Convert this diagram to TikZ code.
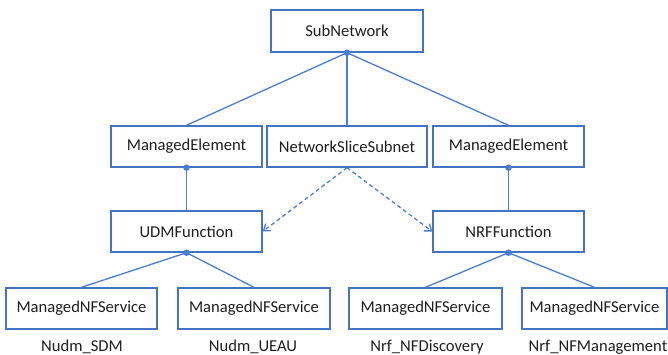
\documentclass[tikz,border=0pt]{standalone}
\usepackage{fontspec}
\setmainfont{Carlito}
\usetikzlibrary{arrows.meta}
\definecolor{boxblue}{HTML}{4472C4}
\definecolor{lineblue}{HTML}{4A7DD4}
\tikzset{
  box/.style={draw=boxblue, line width=1.4pt, fill=white, minimum height=41pt, inner sep=0pt, font=\fontsize{16.6}{19}\selectfont, text=black!88},
  conn/.style={draw=lineblue, line width=1.3pt},
  dconn/.style={draw=lineblue, line width=1.3pt, dash pattern=on 4pt off 3pt, -{Straight Barb[length=6pt,width=9pt,line width=1.3pt]}},
  lbl/.style={font=\fontsize{16.6}{19}\selectfont, text=black!88, inner sep=0pt, anchor=base},
  dot/.style={circle, fill=lineblue, inner sep=0pt, minimum size=6.5pt}
}
\begin{document}
\begin{tikzpicture}[x=1pt,y=-1pt]
\useasboundingbox (0,0) rectangle (668,355);
\node[box, minimum width=152pt, minimum height=42pt] (sub) at (347,31) {SubNetwork};
\node[box, minimum width=151pt] (mel) at (186.5,146.5) {ManagedElement};
\node[box, minimum width=160pt] (nss) at (347,146.5) {NetworkSliceSubnet};
\node[box, minimum width=151pt] (mer) at (508.5,146.5) {ManagedElement};
\node[box, minimum width=151pt] (udm) at (186.5,231.5) {UDMFunction};
\node[box, minimum width=151pt] (nrf) at (508.5,231.5) {NRFFunction};
\node[box, minimum width=151pt] (s1) at (81.5,308.5) {ManagedNFService};
\node[box, minimum width=152pt] (s2) at (254,308.5) {ManagedNFService};
\node[box, minimum width=153pt] (s3) at (425.5,308.5) {ManagedNFService};
\node[box, minimum width=145pt] (s4) at (594.5,308.5) {ManagedNFService};
\node[lbl] (l1) at (82,351) {Nudm\_SDM};
\node[lbl] (l2) at (253,351) {Nudm\_UEAU};
\node[lbl] (l3) at (427,351) {Nrf\_NFDiscovery};
\node[lbl] (l4) at (598,351) {Nrf\_NFManagement};
\draw[conn] (sub.south) -- (mel.north);
\draw[conn] (sub.south) -- (nss.north);
\draw[conn] (sub.south) -- (mer.north);
\draw[conn] (mel.south) -- (udm.north);
\draw[conn] (mer.south) -- (nrf.north);
\draw[conn] (udm.south) -- (s1.north);
\draw[conn] (udm.south) -- (s2.north);
\draw[conn] (nrf.south) -- (s3.north);
\draw[conn] (nrf.south) -- (s4.north);
\draw[dconn] (nss.south) -- (udm.east);
\draw[dconn] (nss.south) -- (nrf.west);
\node[dot] (d1) at (sub.south) {};
\node[dot] (d2) at (mel.south) {};
\node[dot] (d3) at (mer.south) {};
\node[dot] (d4) at (udm.south) {};
\node[dot] (d5) at (nrf.south) {};
\end{tikzpicture}
\end{document}
